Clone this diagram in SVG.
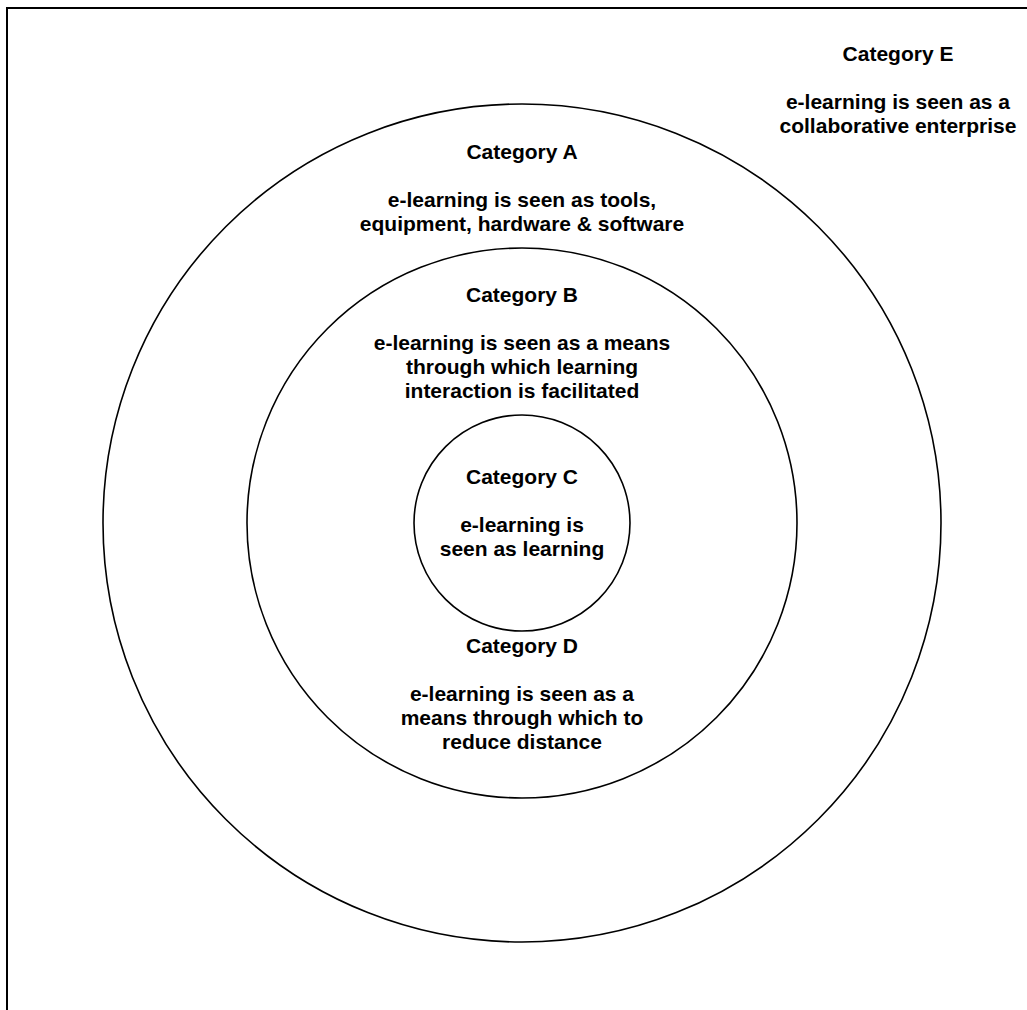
<svg xmlns="http://www.w3.org/2000/svg" width="1027" height="1010" viewBox="0 0 1027 1010">
<style>
.ring{fill:none;stroke:#000;stroke-width:1.6}
.t{font-family:"Liberation Sans",Arial,sans-serif;font-weight:bold;font-size:21px;fill:#000;text-anchor:middle}
</style>
<rect x="0" y="0" width="1027" height="1010" fill="#fff"/>
<rect id="frame" x="7" y="8" width="1040" height="1030" fill="none" stroke="#000" stroke-width="2"/>
<g id="connectors"></g>
<g id="categoryA">
<circle class="ring" cx="522" cy="523" r="419"/>
<text class="t" x="522" y="159">Category A</text>
<text class="t" x="522" y="207">e-learning is seen as tools,</text>
<text class="t" x="522" y="231">equipment, hardware &amp; software</text>
</g>
<g id="categoryB">
<circle class="ring" cx="522" cy="523" r="275"/>
<text class="t" x="522" y="302">Category B</text>
<text class="t" x="522" y="350">e-learning is seen as a means</text>
<text class="t" x="522" y="374">through which learning</text>
<text class="t" x="522" y="398">interaction is facilitated</text>
</g>
<g id="categoryC">
<circle class="ring" cx="522" cy="523" r="108"/>
<text class="t" x="522" y="484">Category C</text>
<text class="t" x="522" y="532">e-learning is</text>
<text class="t" x="522" y="556">seen as learning</text>
</g>
<g id="categoryD">
<text class="t" x="522" y="653">Category D</text>
<text class="t" x="522" y="701">e-learning is seen as a</text>
<text class="t" x="522" y="725">means through which to</text>
<text class="t" x="522" y="749">reduce distance</text>
</g>
<g id="categoryE">
<text class="t" x="898" y="61">Category E</text>
<text class="t" x="898" y="109">e-learning is seen as a</text>
<text class="t" x="898" y="133">collaborative enterprise</text>
</g>
</svg>
